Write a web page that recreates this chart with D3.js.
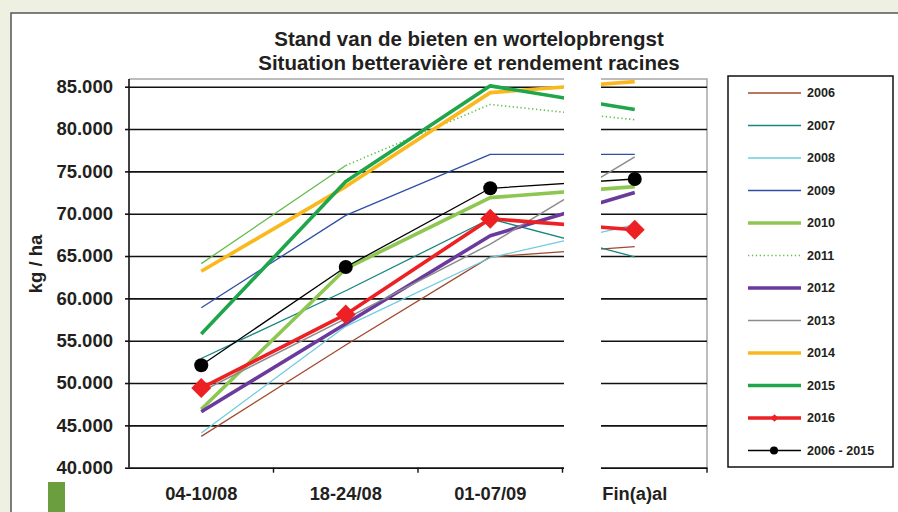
<!DOCTYPE html>
<html>
<head>
<meta charset="utf-8">
<script src="https://cdn.jsdelivr.net/npm/d3@7/dist/d3.min.js"></script>
<style>
  html, body { margin: 0; padding: 0; background: #eef1e1; }
  svg { display: block; }
  text { font-family: "Liberation Sans", Arial, sans-serif; font-weight: bold; fill: #231f20; }
</style>
</head>
<body>
<svg id="chart" width="898" height="512"></svg>
<script>
// Observation periods
const periods = ["04-10/08", "18-24/08", "01-07/09", "Fin(a)al"];

// Root yield (kg/ha) per year at each observation period
const y2006 = [43700, 54500, 64900, 66100];
const y2007 = [52900, 60900, 69400, 64900];
const y2008 = [44100, 56700, 64800, 68700];
const y2009 = [58900, 69800, 77000, 77000];
const y2010 = [46900, 63500, 71900, 73200];
const y2011 = [64100, 75700, 82900, 81100];
const y2012 = [46600, 57000, 67400, 72500];
const y2013 = [49000, 57600, 66400, 76700];
const y2014 = [63200, 73200, 84300, 85600];
const y2015 = [55800, 73800, 85100, 82300];
const y2016 = [49400, 58100, 69400, 68100];
const yAvg  = [52100, 63700, 73000, 74100];

const yTicks = [40000, 45000, 50000, 55000, 60000, 65000, 70000, 75000, 80000, 85000];

const titleLines = ["Stand van de bieten en wortelopbrengst", "Situation betteravière et rendement racines"];
const yTitle = "kg / ha";

const series = [
  { name: "2006", values: y2006, color: "#a24a2e", width: 1.3 },
  { name: "2007", values: y2007, color: "#17867f", width: 1.3 },
  { name: "2008", values: y2008, color: "#6ecbdc", width: 1.3 },
  { name: "2009", values: y2009, color: "#2f4ea8", width: 1.3 },
  { name: "2010", values: y2010, color: "#8dc751", width: 3.6 },
  { name: "2011", values: y2011, color: "#63bb48", width: 1.3, dotted: true },
  { name: "2012", values: y2012, color: "#6a3b9c", width: 3.6 },
  { name: "2013", values: y2013, color: "#8c8c8c", width: 1.5 },
  { name: "2014", values: y2014, color: "#f9b91e", width: 3.6 },
  { name: "2015", values: y2015, color: "#1fa64a", width: 3.6 },
  { name: "2016", values: y2016, color: "#ed2024", width: 3.6, marker: "diamond" },
  { name: "2006 - 2015", values: yAvg, color: "#000000", width: 1.3, marker: "circle" }
];

const svg = d3.select("#chart");

// white panel with frame
svg.append("rect")
  .attr("x", 11).attr("y", 13).attr("width", 900).attr("height", 520)
  .attr("fill", "#ffffff").attr("stroke", "#555555").attr("stroke-width", 1.5);

// small green tab bottom-left
svg.append("rect")
  .attr("x", 48).attr("y", 482).attr("width", 17).attr("height", 40)
  .attr("fill", "#6b9e3e");

const plot = { left: 129, right: 707, top: 79, bottom: 467.7 };

const x = d3.scaleBand().domain(periods).range([plot.left, plot.right]);
const cx = d => x(d) + x.bandwidth() / 2;
const y = d3.scaleLinear().domain([40000, 85000]).range([plot.bottom, 86.7]);

const nl = d3.formatLocale({ decimal: ",", thousands: ".", grouping: [3], currency: ["", ""] });
const fmt = nl.format(",.0f");

// plot area border (top/right in grey)
svg.append("path")
  .attr("d", `M${plot.left},${plot.top}H${plot.right}V${plot.bottom}`)
  .attr("fill", "none").attr("stroke", "#a6a6a6").attr("stroke-width", 1.5);

// horizontal gridlines + y axis
const yAxis = d3.axisLeft(y).tickValues(yTicks).tickFormat(fmt)
  .tickSizeInner(-(plot.right - plot.left)).tickSizeOuter(0).tickPadding(16);
const gy = svg.append("g").attr("transform", `translate(${plot.left},0)`).call(yAxis);
gy.select(".domain").remove();
gy.selectAll(".tick line").attr("stroke", "#111").attr("stroke-width", 1.6);
gy.selectAll(".tick").append("line")
  .attr("x1", -4).attr("x2", 0).attr("stroke", "#111").attr("stroke-width", 1.6);
gy.selectAll(".tick text")
  .attr("font-size", 18.5).attr("fill", "#231f20")
  .style("font-family", "'Liberation Sans', Arial, sans-serif").style("font-weight", "bold");

// left axis line
svg.append("line")
  .attr("x1", plot.left).attr("x2", plot.left).attr("y1", plot.top).attr("y2", plot.bottom)
  .attr("stroke", "#111").attr("stroke-width", 1.6);

// x axis with ticks between categories
const xAxis = d3.axisBottom(x).tickSize(0).tickPadding(19);
const gx = svg.append("g").attr("transform", `translate(0,${plot.bottom})`).call(xAxis);
gx.select(".domain").attr("stroke", "#111").attr("stroke-width", 1.6);
gx.selectAll(".tick text")
  .attr("font-size", 18.3).attr("fill", "#231f20")
  .style("font-family", "'Liberation Sans', Arial, sans-serif").style("font-weight", "bold");
gx.selectAll(".sep").data(periods).enter().append("line")
  .attr("x1", d => x(d) + x.bandwidth()).attr("x2", d => x(d) + x.bandwidth())
  .attr("y1", 0).attr("y2", 5).attr("stroke", "#111").attr("stroke-width", 1.4);

// series lines
const line = d3.line().x(d => cx(d.p)).y(d => y(d.v));
const pts = s => s.values.map((v, i) => ({ p: periods[i], v }));

const gLines = svg.append("g");
series.forEach(s => {
  const p = pts(s);
  if (s.dotted) {
    gLines.append("path").attr("d", line(p.slice(0, 2)))
      .attr("fill", "none").attr("stroke", s.color).attr("stroke-width", s.width);
    gLines.append("path").attr("d", line(p.slice(1)))
      .attr("fill", "none").attr("stroke", s.color).attr("stroke-width", s.width + 0.3)
      .attr("stroke-dasharray", "1.3,2.6");
  } else {
    gLines.append("path").attr("d", line(p))
      .attr("fill", "none").attr("stroke", s.color).attr("stroke-width", s.width)
      .attr("stroke-linejoin", "round");
  }
  if (s.marker === "diamond") {
    gLines.selectAll(null).data(p).enter().append("path")
      .attr("d", d3.symbol(d3.symbolSquare, 200)())
      .attr("transform", d => `translate(${cx(d.p)},${y(d.v)}) rotate(45)`)
      .attr("fill", s.color);
  } else if (s.marker === "circle") {
    gLines.selectAll(null).data(p).enter().append("circle")
      .attr("cx", d => cx(d.p)).attr("cy", d => y(d.v)).attr("r", 7)
      .attr("fill", s.color);
  }
});

// break in the chart between the last two periods
svg.append("rect")
  .attr("x", 564).attr("y", 74).attr("width", 37).attr("height", 402)
  .attr("fill", "#ffffff");

// title
const t = svg.append("text").attr("text-anchor", "middle").attr("font-size", 20.5);
titleLines.forEach((s, i) => {
  t.append("tspan").attr("x", 469).attr("y", 46 + i * 24.3).text(s);
});

// y axis title
svg.append("text")
  .attr("transform", "translate(42,264) rotate(-90)")
  .attr("text-anchor", "middle").attr("font-size", 18.5)
  .text(yTitle);

// legend
const lg = svg.append("g");
lg.append("rect")
  .attr("x", 728).attr("y", 76).attr("width", 165).attr("height", 391)
  .attr("fill", "#fff").attr("stroke", "#111").attr("stroke-width", 1.5);
series.forEach((s, i) => {
  const ly = 93 + i * 32.5;
  lg.append("line")
    .attr("x1", 748).attr("x2", 801).attr("y1", ly).attr("y2", ly)
    .attr("stroke", s.color).attr("stroke-width", s.width)
    .attr("stroke-dasharray", s.dotted ? "1.3,2.6" : null);
  if (s.marker === "diamond") {
    lg.append("path").attr("d", d3.symbol(d3.symbolSquare, 30)())
      .attr("transform", `translate(774.5,${ly}) rotate(45)`).attr("fill", s.color);
  } else if (s.marker === "circle") {
    lg.append("circle").attr("cx", 774).attr("cy", ly).attr("r", 4).attr("fill", s.color);
  }
  lg.append("text").attr("x", 807).attr("y", ly).attr("dy", "0.35em")
    .attr("font-size", 12.6).text(s.name);
});
</script>
</body>
</html>
